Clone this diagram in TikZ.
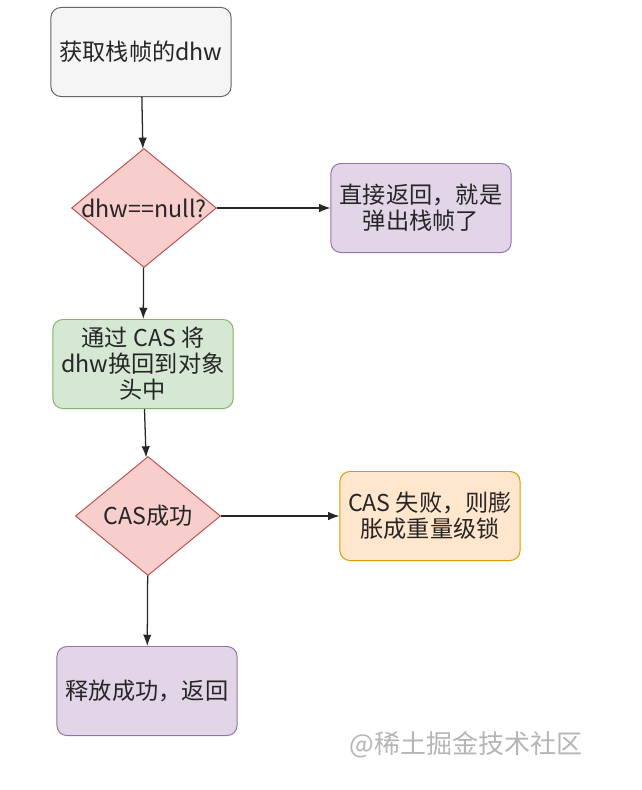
\documentclass[tikz,border=0pt]{standalone}
\usepackage{fontspec}
\setmainfont{Noto Sans CJK SC}
\usepackage{tikz}
\usetikzlibrary{arrows.meta,shapes.geometric}
\definecolor{greyfill}{HTML}{F5F5F5}
\definecolor{greyline}{HTML}{666666}
\definecolor{redfill}{HTML}{F8CECC}
\definecolor{redline}{HTML}{B85450}
\definecolor{purplefill}{HTML}{E1D5E7}
\definecolor{purpleline}{HTML}{9673A6}
\definecolor{greenfill}{HTML}{D5E8D4}
\definecolor{greenline}{HTML}{82B366}
\definecolor{orangefill}{HTML}{FFE6CC}
\definecolor{orangeline}{HTML}{D79B00}
\definecolor{markgrey}{HTML}{B5B5B5}

\begin{document}
\begin{tikzpicture}[
    x=0.025cm, y=-0.025cm,
    every node/.style={font=\fontsize{16.5}{18.5}\selectfont, text=black!85, align=center},
    box/.style={rectangle, rounded corners=7pt, line width=0.7pt, minimum width=4.5cm, minimum height=2.225cm, inner sep=2pt},
    check/.style={diamond, line width=0.7pt, draw=redline, fill=redfill, minimum width=3.625cm, minimum height=2.975cm, inner sep=0pt, label={center:#1}},
    flow/.style={-{Latex[length=8pt,width=6pt]}, line width=0.9pt, black!85}
]
\useasboundingbox (0,0) rectangle (641,790);

% main column
\node[box, draw=greyline, fill=greyfill] (fetch) at (141,52) {获取栈帧的dhw};
\node[check={dhw==null?}] (isnull) at (144,208) {};
\node[box, draw=greenline, fill=greenfill] (swap) at (143,364) {通过 CAS 将\\dhw换回到对象\\头中};
\node[check={CAS成功}] (casok) at (148,516) {};
\node[box, draw=purpleline, fill=purplefill] (done) at (147,691) {释放成功，返回};

% side branches
\node[box, draw=purpleline, fill=purplefill] (pop) at (421,208) {直接返回，就是\\弹出栈帧了};
\node[box, draw=orangeline, fill=orangefill] (inflate) at (430,516) {CAS 失败，则膨\\胀成重量级锁};

\draw[flow] (fetch) -- (isnull);
\draw[flow] (isnull) -- (pop);
\draw[flow] (isnull) -- (swap);
\draw[flow] (swap) -- (casok);
\draw[flow] (casok) -- (inflate);
\draw[flow] (casok) -- (done);

% watermark
\node[text=markgrey, font=\fontsize{18.5}{20}\selectfont] (mark) at (466,745) {@稀土掘金技术社区};
\end{tikzpicture}
\end{document}
